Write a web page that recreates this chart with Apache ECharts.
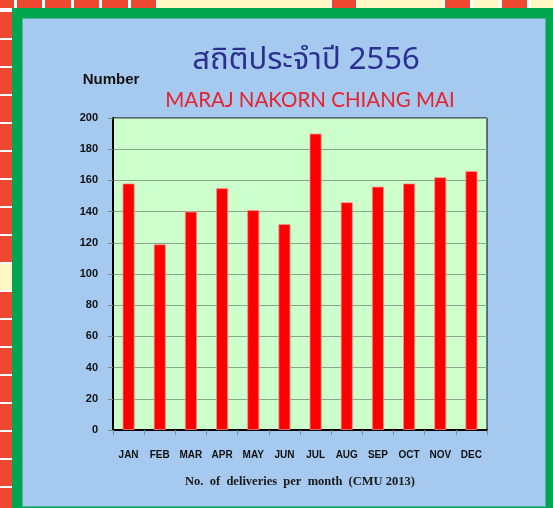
<!DOCTYPE html>
<html>
<head>
<meta charset="utf-8">
<script src="https://cdn.jsdelivr.net/npm/echarts@6/dist/echarts.min.js"></script>
<style>
  html, body { margin: 0; padding: 0; background: #fff; }
  #chart { width: 553px; height: 508px; }
</style>
</head>
<body>
<div id="chart"></div>
<script>
// data
var months = ['JAN', 'FEB', 'MAR', 'APR', 'MAY', 'JUN', 'JUL', 'AUG', 'SEP', 'OCT', 'NOV', 'DEC'];
var deliveries = [158, 119, 140, 155, 141, 132, 190, 146, 156, 158, 162, 166];
var yTicks = [0, 20, 40, 60, 80, 100, 120, 140, 160, 180, 200];

var titleText = 'สถิติประจำปี 2556';
var subText = 'MARAJ NAKORN CHIANG MAI';
var yName = 'Number';
var xName = 'No.  of  deliveries  per  month  (CMU 2013)';

// decorative frame: red / yellow squares round the picture
var RED = '#ee4930', YEL = '#fff8c5';
var topRed = [[0, 14], [17, 42], [45, 71], [74, 99], [102, 128], [131, 156], [332, 356], [445, 470], [502, 527]];
var topYel = [[157, 330], [357, 443], [473, 499], [531, 553]];
var leftGaps = [10, 38, 66, 94, 122, 150, 178, 206, 234, 262, 290, 318, 346, 374, 402, 430, 458, 486];

function frame() {
  var els = [];
  els.push({ type: 'rect', z: -10, shape: { x: 0, y: 0, width: 553, height: 508 }, style: { fill: '#ffffff' } });
  topRed.forEach(function (s) {
    els.push({ type: 'rect', z: -9, shape: { x: s[0], y: 0, width: s[1] - s[0], height: 8 }, style: { fill: RED } });
  });
  topYel.forEach(function (s) {
    els.push({ type: 'rect', z: -9, shape: { x: s[0], y: 0, width: s[1] - s[0], height: 8 }, style: { fill: YEL } });
  });
  els.push({ type: 'rect', z: -9, shape: { x: 0, y: 11, width: 12, height: 497 }, style: { fill: RED } });
  els.push({ type: 'rect', z: -9, shape: { x: 0, y: 263, width: 12, height: 28 }, style: { fill: YEL } });
  leftGaps.forEach(function (y) {
    els.push({ type: 'rect', z: -8, shape: { x: 0, y: y, width: 12, height: 2 }, style: { fill: '#ffffff' } });
  });
  // green border and blue panel
  els.push({ type: 'rect', z: -7, shape: { x: 12, y: 8, width: 541, height: 500 }, style: { fill: '#00a54f' } });
  els.push({ type: 'rect', z: -6, shape: { x: 22.5, y: 18.5, width: 523, height: 488 },
    style: { fill: '#a6c9ef', stroke: '#4fb3a0', lineWidth: 1 } });
  return els;
}

var chart = echarts.init(document.getElementById('chart'), null, { renderer: 'canvas' });

var option = {
  animation: false,
  title: [{
    text: titleText,
    left: 301, top: 42, textAlign: 'center',
    textStyle: { color: '#2b3090', fontSize: 31, fontWeight: 'normal',
      fontFamily: '"Noto Sans Thai", "Noto Sans", "DejaVu Sans", sans-serif' }
  }, {
    text: subText,
    left: 305, top: 85, textAlign: 'center',
    textStyle: { color: '#e8222d', fontSize: 20.5, fontWeight: 'normal', fontFamily: 'Lato, "Open Sans", sans-serif' }
  }],
  grid: {
    left: 113, right: 66, top: 118, bottom: 78,
    show: true, backgroundColor: '#ccffcc', borderColor: '#000', borderWidth: 1
  },
  xAxis: {
    type: 'category',
    data: months,
    name: xName,
    nameLocation: 'middle',
    nameGap: 45,
    nameTextStyle: { color: '#1a1a1a', fontSize: 12.5, fontWeight: 'bold', fontFamily: '"Liberation Serif", serif' },
    axisLine: { lineStyle: { color: '#000', width: 2 } },
    axisTick: { show: true, length: 5, lineStyle: { color: '#7f8f7f' } },
    axisLabel: { margin: 20, color: '#111', fontSize: 10, fontWeight: 'bold', fontFamily: '"Liberation Sans", Arial, sans-serif' }
  },
  yAxis: {
    type: 'value',
    min: yTicks[0],
    max: yTicks[yTicks.length - 1],
    interval: yTicks[1] - yTicks[0],
    name: yName,
    nameLocation: 'end',
    nameGap: 31,
    nameTextStyle: { color: '#111', fontSize: 15, fontWeight: 'bold', fontFamily: '"Liberation Sans", Arial, sans-serif', align: 'center', padding: [0, 4, 0, 0] },
    axisLine: { show: true, lineStyle: { color: '#000', width: 2 } },
    axisTick: { show: true, length: 5, lineStyle: { color: '#7f8f7f' } },
    splitLine: { show: true, lineStyle: { color: '#8ba58b', width: 1.2 } },
    axisLabel: { margin: 15, color: '#111', fontSize: 11, fontWeight: 'bold', fontFamily: '"Liberation Sans", Arial, sans-serif' }
  },
  series: [{
    type: 'bar',
    data: deliveries,
    barWidth: 12,
    itemStyle: { color: '#ff0000', borderColor: '#ff8f8f', borderWidth: 0.8 }
  }],
  graphic: frame()
};

chart.setOption(option);
</script>
</body>
</html>
